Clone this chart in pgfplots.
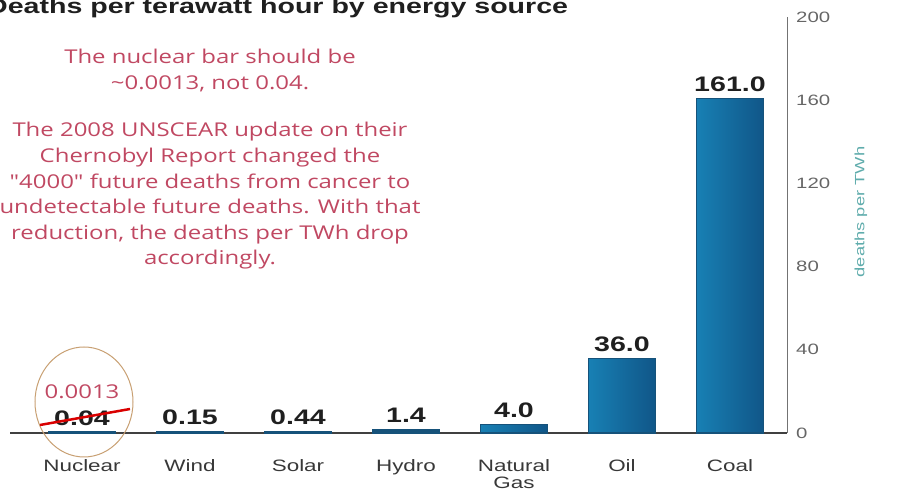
\documentclass[border=0pt]{standalone}
\usepackage{fontspec}
\usepackage{pgfplots}
\pgfplotsset{compat=1.18}
\setmainfont{Liberation Sans}
\newfontfamily\cf[FakeStretch=1.36]{Liberation Sans}
\newfontfamily\nf[FakeStretch=1.26]{Open Sans}
\definecolor{barL}{RGB}{24,128,180}
\definecolor{barR}{RGB}{16,86,136}
\definecolor{barEdge}{RGB}{22,82,122}
\definecolor{noteRed}{RGB}{192,72,98}
\definecolor{circ}{RGB}{200,160,115}
\definecolor{teal}{RGB}{95,172,172}

\pgfplotsset{
  mybar/.style={ybar, bar width=67pt, bar shift=0pt, mark=none,
    draw=barEdge, line width=1.2pt, left color=barL, right color=barR,
    nodes near coords, point meta=explicit symbolic,
    every node near coord/.append style={font=\cf\bfseries\fontsize{21}{21}\selectfont,
      text=black!88, anchor=south, inner sep=0pt, yshift=6pt}},
  thinbar/.style={mybar, line width=3pt, bar width=65pt},
}

\begin{document}
\begin{tikzpicture}[x=1pt,y=1pt]
\path[use as bounding box] (0,0) rectangle (903,494);
\begin{axis}[
  at={(10pt,61pt)}, anchor=south west,
  scale only axis, width=777pt, height=416pt,
  xmin=-0.667, xmax=6.528, ymin=0, ymax=200,
  axis x line*=bottom, axis y line*=right,
  axis line style={-},
  x axis line style={draw=black!75, line width=1.3pt},
  y axis line style={draw=black!55, line width=1pt},
  major tick length=0pt,
  xtick={0,...,6},
  xticklabels={Nuclear, Wind, Solar, Hydro, {Natural\\Gas}, Oil, Coal},
  xticklabel style={align=center, anchor=north, inner sep=0pt, yshift=-26pt,
    font=\cf\fontsize{16.5}{17}\selectfont, text=black!78},
  ytick={0,40,...,200},
  /pgf/number format/assume math mode=true,
  yticklabel style={anchor=west, inner sep=0pt, xshift=9pt,
    font=\cf\fontsize{15}{15}\selectfont, text=black!60},
  clip=false,
]
\addplot[thinbar] coordinates {(0,0.04) [0.04]};
\addplot[thinbar] coordinates {(1,0.15) [0.15]};
\addplot[thinbar] coordinates {(2,0.44) [0.44]};
\addplot[thinbar] coordinates {(3,1.4) [1.4]};
\addplot[mybar] coordinates {(4,4.0) [4.0]};
\addplot[mybar] coordinates {(5,36.0) [36.0]};
\addplot[mybar] coordinates {(6,161.0) [161.0]};
\end{axis}
% title
\node[anchor=base west, inner sep=0pt, font=\cf\bfseries\fontsize{21}{21}\selectfont, text=black!88]
  at (-13,480) {Deaths per terawatt hour by energy source};
% y label
\node[rotate=90, inner sep=0pt, font=\cf\fontsize{13.5}{13.5}\selectfont, text=teal]
  at (861,282) {deaths per TWh};
% notes
\node[align=center, inner sep=0pt, text=noteRed, font=\nf\fontsize{19}{25.6}\selectfont]
  at (210,423.5) {The nuclear bar should be\\\textasciitilde 0.0013, not 0.04.};
\node[align=center, inner sep=0pt, text=noteRed, font=\nf\fontsize{19}{25.6}\selectfont]
  at (210,298) {The 2008 UNSCEAR update on their\\Chernobyl Report changed the\\"4000" future deaths from cancer to\\undetectable future deaths. With that\\reduction, the deaths per TWh drop\\accordingly.};
% nuclear correction overlay
\draw[circ, line width=1pt] (84,92) ellipse [x radius=49, y radius=55];
\node[anchor=base, inner sep=0pt, text=noteRed, font=\nf\fontsize{19}{19}\selectfont] at (82,95) {0.0013};
\draw[red!85!black, line width=2.5pt] (40,69) -- (130,85);
\end{tikzpicture}
\end{document}
